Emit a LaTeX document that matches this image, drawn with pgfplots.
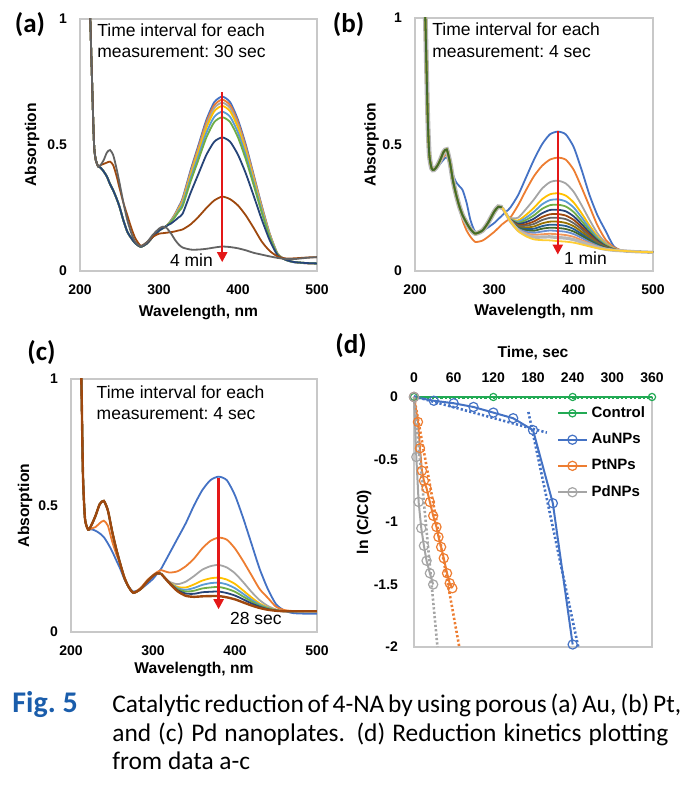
\documentclass[border=0pt]{standalone}
\usepackage{fontspec}
\setmainfont{Liberation Sans}
\newfontfamily\capfont{Carlito}
\usepackage{pgfplots}
\pgfplotsset{compat=1.18}
\usepackage{pgfplotstable}
\usetikzlibrary{arrows.meta}

\definecolor{xblue}{HTML}{4472C4}
\definecolor{xorange}{HTML}{ED7D31}
\definecolor{xgray}{HTML}{A5A5A5}
\definecolor{xgold}{HTML}{FFC000}
\definecolor{xlblue}{HTML}{5B9BD5}
\definecolor{xgreen}{HTML}{70AD47}
\definecolor{xdblue}{HTML}{264478}
\definecolor{xbrown}{HTML}{9E480E}
\definecolor{xdgray}{HTML}{636363}
\definecolor{xolive}{HTML}{997300}
\definecolor{xdblueb}{HTML}{255E91}
\definecolor{xdgreen}{HTML}{43682B}
\definecolor{xlblueb}{HTML}{698ED0}
\definecolor{xlorange}{HTML}{F1975A}
\definecolor{xlgray}{HTML}{B7B7B7}
\definecolor{xlgold}{HTML}{FFCD33}
\definecolor{cgreen}{RGB}{34,170,84}
\definecolor{xred}{RGB}{228,24,24}
\definecolor{axgray}{RGB}{200,200,200}
\definecolor{figblue}{RGB}{26,93,171}

\newcommand{\tickf}{\fontsize{7}{8}\selectfont\bfseries}
\newcommand{\labf}{\fontsize{7.8}{9}\selectfont\bfseries}
\newcommand{\annf}{\fontsize{8.75}{10}\selectfont}
\newcommand{\panf}{\capfont\bfseries\fontsize{13.5}{15}\selectfont}
\newcommand{\capf}{\capfont\fontsize{12.7}{15}\selectfont}

% ---------- panel (a) ----------
\pgfplotstableread{
l main brown dgray
205 1.8 1.8 1.8
210 1.3 1.3 1.3
213 1.0 1.0 1.0
216.5 0.62 0.62 0.62
218 0.49 0.49 0.49
220 0.44 0.44 0.44
223 0.415 0.415 0.415
226 0.41 0.42 0.42
230 0.395 0.425 0.44
234 0.375 0.43 0.47
238 0.345 0.434 0.48
242 0.32 0.42 0.46
246 0.29 0.38 0.41
250 0.255 0.33 0.35
255 0.2 0.27 0.27
260 0.155 0.22 0.2
265 0.13 0.17 0.15
270 0.11 0.13 0.115
277 0.096 0.10 0.098
285 0.11 0.115 0.115
292 0.135 0.135 0.143
300 0.16 0.148 0.168
305 0.17 0.15 0.176
310 0.18 0.152 0.17
}\Aleft
\pgfplotstableread{
l c1 c2 c3 c4 c5 c6 c7 c8 c9
310 0.18 0.18 0.18 0.18 0.18 0.18 0.18 0.152 0.17
315 0.20 0.199 0.198 0.197 0.196 0.195 0.188 0.154 0.15
320 0.225 0.223 0.221 0.219 0.216 0.213 0.20 0.157 0.125
325 0.255 0.252 0.249 0.246 0.241 0.236 0.213 0.161 0.105
330 0.29 0.285 0.281 0.276 0.267 0.258 0.228 0.165 0.093
340 0.40 0.393 0.387 0.379 0.367 0.355 0.31 0.185 0.085
350 0.50 0.492 0.483 0.474 0.458 0.442 0.386 0.215 0.085
360 0.60 0.59 0.579 0.568 0.549 0.53 0.461 0.25 0.088
370 0.67 0.658 0.647 0.634 0.612 0.591 0.513 0.28 0.093
380 0.692 0.68 0.668 0.655 0.632 0.61 0.53 0.295 0.097
390 0.67 0.658 0.647 0.634 0.612 0.591 0.513 0.285 0.095
400 0.60 0.59 0.579 0.568 0.549 0.53 0.461 0.26 0.09
410 0.50 0.492 0.483 0.474 0.458 0.442 0.386 0.22 0.082
420 0.38 0.375 0.369 0.362 0.35 0.339 0.297 0.17 0.072
430 0.26 0.256 0.252 0.247 0.24 0.232 0.205 0.117 0.065
440 0.15 0.148 0.146 0.144 0.14 0.136 0.123 0.08 0.058
450 0.07 0.069 0.069 0.068 0.067 0.066 0.063 0.058 0.052
460 0.045 0.045 0.045 0.045 0.045 0.045 0.045 0.05 0.048
470 0.035 0.036 0.036 0.036 0.036 0.036 0.036 0.05 0.047
480 0.032 0.032 0.033 0.033 0.033 0.033 0.033 0.052 0.05
490 0.03 0.03 0.031 0.031 0.031 0.031 0.031 0.054 0.053
500 0.03 0.03 0.03 0.03 0.03 0.03 0.03 0.055 0.055
}\Aright

% ---------- panel (b) ----------
\pgfplotstableread{
l blue orange clus
205 1.8 1.8 1.8
210 1.3 1.3 1.3
213 1.0 1.0 1.0
216 0.61 0.61 0.61
218 0.46 0.46 0.46
221 0.405 0.405 0.405
224 0.40 0.40 0.40
228 0.41 0.415 0.415
232 0.425 0.43 0.44
236 0.44 0.45 0.47
240 0.45 0.46 0.48
244 0.42 0.42 0.43
248 0.38 0.36 0.355
252 0.35 0.30 0.30
256 0.335 0.25 0.255
260 0.32 0.20 0.22
265 0.27 0.16 0.19
270 0.20 0.135 0.165
276 0.155 0.115 0.148
285 0.16 0.12 0.16
292 0.172 0.135 0.19
300 0.19 0.155 0.235
305 0.205 0.17 0.254
310 0.22 0.185 0.25
}\Bleft
\pgfplotstableread{
l c1 c2 c3 c4 c5 c6 c7 c8 c9 c10 c11 c12 c13 c14 c15 c16
310 0.22 0.185 0.25 0.25 0.25 0.25 0.25 0.25 0.25 0.25 0.25 0.25 0.25 0.25 0.25 0.25
315 0.235 0.197 0.225 0.225 0.225 0.225 0.225 0.225 0.225 0.225 0.225 0.225 0.225 0.225 0.225 0.225
320 0.25 0.21 0.209 0.206 0.205 0.204 0.203 0.202 0.202 0.201 0.200 0.200 0.199 0.198 0.198 0.197
330 0.30 0.26 0.211 0.200 0.195 0.190 0.186 0.182 0.179 0.175 0.172 0.170 0.167 0.164 0.161 0.158
340 0.37 0.32 0.245 0.222 0.211 0.202 0.193 0.185 0.179 0.172 0.166 0.161 0.155 0.149 0.143 0.137
350 0.44 0.375 0.283 0.250 0.234 0.220 0.207 0.196 0.186 0.176 0.167 0.159 0.151 0.143 0.134 0.125
360 0.50 0.415 0.325 0.283 0.263 0.245 0.228 0.213 0.201 0.188 0.177 0.167 0.156 0.145 0.134 0.122
370 0.54 0.44 0.351 0.303 0.280 0.260 0.241 0.224 0.210 0.195 0.183 0.171 0.160 0.147 0.135 0.121
380 0.551 0.448 0.357 0.307 0.283 0.262 0.242 0.225 0.210 0.195 0.182 0.170 0.158 0.145 0.132 0.118
390 0.54 0.44 0.346 0.298 0.275 0.255 0.236 0.219 0.205 0.190 0.178 0.166 0.155 0.142 0.130 0.116
400 0.49 0.40 0.313 0.271 0.251 0.233 0.216 0.202 0.189 0.177 0.166 0.156 0.146 0.135 0.124 0.112
410 0.40 0.33 0.260 0.228 0.212 0.198 0.185 0.174 0.165 0.155 0.146 0.139 0.131 0.122 0.114 0.105
420 0.30 0.255 0.202 0.180 0.169 0.160 0.151 0.144 0.137 0.131 0.125 0.120 0.114 0.109 0.103 0.097
430 0.22 0.18 0.149 0.137 0.131 0.126 0.121 0.116 0.113 0.109 0.106 0.103 0.100 0.096 0.093 0.090
440 0.16 0.125 0.113 0.107 0.104 0.102 0.099 0.097 0.096 0.094 0.092 0.091 0.089 0.088 0.086 0.085
450 0.10 0.095 0.091 0.089 0.088 0.087 0.086 0.086 0.085 0.085 0.084 0.084 0.083 0.083 0.082 0.082
460 0.08 0.082 0.08 0.08 0.08 0.08 0.08 0.08 0.08 0.08 0.08 0.08 0.08 0.08 0.08 0.08
470 0.078 0.078 0.078 0.078 0.078 0.078 0.078 0.078 0.078 0.078 0.078 0.078 0.078 0.078 0.078 0.078
480 0.076 0.076 0.076 0.076 0.076 0.076 0.076 0.076 0.076 0.076 0.076 0.076 0.076 0.076 0.076 0.076
490 0.075 0.075 0.075 0.075 0.075 0.075 0.075 0.075 0.075 0.075 0.075 0.075 0.075 0.075 0.075 0.075
500 0.074 0.074 0.074 0.074 0.074 0.074 0.074 0.074 0.074 0.074 0.074 0.074 0.074 0.074 0.074 0.074
}\Bright

% ---------- panel (c) ----------
\pgfplotstableread{
l blue orange clus
205 1.8 1.8 1.8
210 1.25 1.25 1.25
212.6 1.0 1.0 1.0
214.6 0.62 0.62 0.62
217 0.45 0.45 0.45
220 0.41 0.41 0.41
222 0.405 0.405 0.405
226 0.405 0.41 0.43
230 0.40 0.415 0.46
235 0.39 0.43 0.505
240 0.375 0.44 0.518
245 0.35 0.42 0.48
250 0.32 0.36 0.40
255 0.285 0.31 0.33
260 0.25 0.27 0.27
265 0.21 0.22 0.215
270 0.18 0.18 0.18
276 0.16 0.155 0.155
285 0.17 0.175 0.17
293 0.19 0.205 0.20
300 0.21 0.225 0.222
305 0.23 0.237 0.232
310 0.25 0.245 0.23
}\Cleft
\pgfplotstableread{
l c1 c2 c3 c4 c5 c6 c7 c8
310 0.25 0.245 0.23 0.23 0.23 0.23 0.23 0.23
320 0.31 0.235 0.199 0.196 0.195 0.194 0.194 0.193
330 0.37 0.24 0.189 0.178 0.173 0.169 0.165 0.161
340 0.43 0.26 0.199 0.176 0.167 0.160 0.152 0.143
350 0.50 0.29 0.221 0.188 0.174 0.163 0.151 0.139
360 0.56 0.33 0.246 0.203 0.186 0.172 0.157 0.141
370 0.60 0.36 0.260 0.212 0.193 0.176 0.159 0.142
380 0.614 0.373 0.265 0.215 0.195 0.178 0.160 0.142
390 0.60 0.365 0.255 0.207 0.188 0.171 0.154 0.137
400 0.54 0.33 0.232 0.190 0.173 0.159 0.144 0.129
410 0.45 0.28 0.197 0.164 0.151 0.140 0.129 0.117
420 0.35 0.225 0.159 0.137 0.128 0.121 0.113 0.105
430 0.25 0.17 0.126 0.113 0.108 0.104 0.100 0.095
440 0.17 0.135 0.103 0.097 0.095 0.093 0.090 0.088
450 0.11 0.10 0.089 0.087 0.086 0.086 0.085 0.084
460 0.085 0.087 0.082 0.082 0.082 0.082 0.082 0.082
470 0.075 0.083 0.082 0.082 0.082 0.082 0.082 0.082
480 0.073 0.082 0.082 0.082 0.082 0.082 0.082 0.082
490 0.072 0.082 0.082 0.082 0.082 0.082 0.082 0.082
500 0.072 0.082 0.082 0.082 0.082 0.082 0.082 0.082
}\Cright

\pgfplotsset{
  spec/.style={
    scale only axis, anchor=south west,
    xmin=200, xmax=500, ymin=0, ymax=1,
    xtick={200,300,400,500}, xticklabels={200,300,400,500},
    ytick={0,0.5,1}, yticklabels={0,0.5,1},
    major tick length=0pt,
    axis line style={draw=axgray, line width=0.7pt},
    tick label style={font=\tickf},
    xticklabel style={anchor=center, yshift=-9.5pt},
    yticklabel style={anchor=east, xshift=-3pt},
    label style={font=\labf},
    xlabel={Wavelength, nm}, ylabel={Absorption},
    every axis plot/.append style={line width=0.9pt, no marks, smooth, tension=0.4},
  },
  arr/.style={xred, line width=1.1pt, sharp plot, -{Triangle[length=5pt,width=5pt]}},
}

\begin{document}
\begin{tikzpicture}
\path[use as bounding box] (0pt,0pt) rectangle (343pt,398pt);

% ===== (a) =====
\begin{axis}[spec, at={(40pt,262.5pt)}, width=118.5pt, height=126pt,
  xlabel style={at={(axis description cs:0.5,-0.163)}, anchor=center},
  ylabel style={at={(axis description cs:-0.2025,0.5)}, anchor=center}]
\addplot[xblue] table[x=l,y=main]{\Aleft};
\addplot[xorange] table[x=l,y=main]{\Aleft};
\addplot[xgray] table[x=l,y=main]{\Aleft};
\addplot[xgold] table[x=l,y=main]{\Aleft};
\addplot[xlblue] table[x=l,y=main]{\Aleft};
\addplot[xgreen] table[x=l,y=main]{\Aleft};
\addplot[xdblue] table[x=l,y=main]{\Aleft};
\addplot[xbrown] table[x=l,y=brown]{\Aleft};
\addplot[xdgray] table[x=l,y=dgray]{\Aleft};
\addplot[xblue] table[x=l,y=c1]{\Aright};
\addplot[xorange] table[x=l,y=c2]{\Aright};
\addplot[xgray] table[x=l,y=c3]{\Aright};
\addplot[xgold] table[x=l,y=c4]{\Aright};
\addplot[xlblue] table[x=l,y=c5]{\Aright};
\addplot[xgreen] table[x=l,y=c6]{\Aright};
\addplot[xdblue] table[x=l,y=c7]{\Aright};
\addplot[xbrown] table[x=l,y=c8]{\Aright};
\addplot[xdgray] table[x=l,y=c9]{\Aright};
\addplot[arr] coordinates {(380,0.71) (380,0.035)};
\node[anchor=base west, inner sep=0pt, font=\annf] at (axis cs:221.5,0.93) {Time interval for each};
\node[anchor=base west, inner sep=0pt, font=\annf] at (axis cs:221.5,0.849) {measurement:\ 30 sec};
\node[anchor=base west, inner sep=0pt, font=\annf] at (axis cs:313.5,0.017) {4 min};
\end{axis}

% ===== (b) =====
\begin{axis}[spec, at={(207.5pt,262.5pt)}, width=119pt, height=126.5pt,
  xlabel style={at={(axis description cs:0.5,-0.161)}, anchor=center},
  ylabel style={at={(axis description cs:-0.182,0.5)}, anchor=center}]
\addplot[xblue] table[x=l,y=blue]{\Bleft};
\addplot[xorange] table[x=l,y=orange]{\Bleft};
\addplot[xlgray, line width=2.4pt] table[x=l,y=clus]{\Bleft};
\addplot[xgold] table[x=l,y=clus]{\Bleft};
\addplot[xolive] table[x=l,y=clus]{\Bleft};
\addplot[xgreen] table[x=l,y=clus]{\Bleft};
\addplot[xdgreen] table[x=l,y=clus]{\Bleft};
\addplot[xblue] table[x=l,y=c1]{\Bright};
\addplot[xorange] table[x=l,y=c2]{\Bright};
\addplot[xgray] table[x=l,y=c3]{\Bright};
\addplot[xgold] table[x=l,y=c4]{\Bright};
\addplot[xlblue] table[x=l,y=c5]{\Bright};
\addplot[xgreen] table[x=l,y=c6]{\Bright};
\addplot[xdblue] table[x=l,y=c7]{\Bright};
\addplot[xbrown] table[x=l,y=c8]{\Bright};
\addplot[xdgray] table[x=l,y=c9]{\Bright};
\addplot[xolive] table[x=l,y=c10]{\Bright};
\addplot[xdblueb] table[x=l,y=c11]{\Bright};
\addplot[xdgreen] table[x=l,y=c12]{\Bright};
\addplot[xlblueb] table[x=l,y=c13]{\Bright};
\addplot[xlorange] table[x=l,y=c14]{\Bright};
\addplot[xlgray, line width=1.6pt] table[x=l,y=c15]{\Bright};
\addplot[xlgold] table[x=l,y=c16]{\Bright};
\addplot[arr] coordinates {(380,0.555) (380,0.065)};
\node[anchor=base west, inner sep=0pt, font=\annf] at (axis cs:221.4,0.93) {Time interval for each};
\node[anchor=base west, inner sep=0pt, font=\annf] at (axis cs:221.4,0.843) {measurement:\ 4 sec};
\node[anchor=base west, inner sep=0pt, font=\annf] at (axis cs:387.4,0.024) {1 min};
\end{axis}

% ===== (c) =====
\begin{axis}[spec, at={(35.5pt,82pt)}, width=123pt, height=126.5pt,
  xlabel style={at={(axis description cs:0.5,-0.15)}, anchor=center},
  ylabel style={at={(axis description cs:-0.187,0.5)}, anchor=center}]
\addplot[xblue] table[x=l,y=blue]{\Cleft};
\addplot[xorange] table[x=l,y=orange]{\Cleft};
\addplot[xgray] table[x=l,y=clus]{\Cleft};
\addplot[xgold] table[x=l,y=clus]{\Cleft};
\addplot[xlblue] table[x=l,y=clus]{\Cleft};
\addplot[xgreen] table[x=l,y=clus]{\Cleft};
\addplot[xdblue] table[x=l,y=clus]{\Cleft};
\addplot[xbrown, line width=1.2pt] table[x=l,y=clus]{\Cleft};
\addplot[xblue] table[x=l,y=c1]{\Cright};
\addplot[xorange] table[x=l,y=c2]{\Cright};
\addplot[xgray] table[x=l,y=c3]{\Cright};
\addplot[xgold] table[x=l,y=c4]{\Cright};
\addplot[xlblue] table[x=l,y=c5]{\Cright};
\addplot[xgreen] table[x=l,y=c6]{\Cright};
\addplot[xdblue] table[x=l,y=c7]{\Cright};
\addplot[xbrown, line width=1.2pt] table[x=l,y=c8]{\Cright};
\addplot[arr] coordinates {(380,0.61) (380,0.09)};
\node[anchor=base west, inner sep=0pt, font=\annf] at (axis cs:230.9,0.922) {Time interval for each};
\node[anchor=base west, inner sep=0pt, font=\annf] at (axis cs:230.9,0.841) {measurement:\ 4 sec};
\node[anchor=base west, inner sep=0pt, font=\annf] at (axis cs:393.5,0.03) {28 sec};
\end{axis}

% ===== (d) =====
\begin{axis}[scale only axis, anchor=south west, at={(207pt,74.5pt)}, width=119pt, height=125pt,
  xmin=0, xmax=360, ymin=-2, ymax=0,
  xtick={0,60,120,180,240,300,360}, xticklabels={0,60,120,180,240,300,360},
  ytick={-2,-1.5,-1,-0.5,0}, yticklabels={-2,-1.5,-1,-0.5,0},
  xticklabel pos=upper,
  major tick length=0pt,
  axis line style={draw=axgray, line width=0.7pt},
  tick label style={font=\tickf},
  xticklabel style={anchor=center, yshift=9.5pt},
  yticklabel style={anchor=east, xshift=-4.5pt},
  label style={font=\labf},
  xlabel={Time, sec}, xlabel style={at={(axis description cs:0.5,1.176)}, anchor=center},
  ylabel={ln (C/C0)}, ylabel style={at={(axis description cs:-0.21,0.5)}, anchor=center},
  clip=false,
  legend style={at={(axis cs:216,-0.04)}, anchor=north west, draw=none, fill=none,
    font=\fontsize{7.5}{9}\selectfont\bfseries, row sep=2.4pt, inner sep=0pt},
  legend cell align=left,
  legend image code/.code={\draw[mark repeat=2,mark phase=2,#1] plot coordinates {(0cm,0cm) (0.25cm,0cm) (0.5cm,0cm)};},
]
\addplot[cgreen, line width=1pt, mark=o, mark size=1.8pt, mark options={line width=0.6pt}] coordinates {(0,0) (120,0) (240,0) (360,0)};
\addlegendentry{Control}
\addplot[xblue, line width=1pt, mark=o, mark size=2.3pt, mark options={line width=0.6pt}] coordinates {(0,0) (30,-0.03) (60,-0.05) (90,-0.08) (120,-0.125) (150,-0.17) (180,-0.265) (210,-0.85) (240,-1.98)};
\addlegendentry{AuNPs}
\addplot[xorange, line width=1pt, mark=o, mark size=2.3pt, mark options={line width=0.6pt}] coordinates {(0,0) (6,-0.2) (9,-0.41) (12,-0.59) (15,-0.67) (19,-0.73) (24,-0.84) (29,-0.95) (34,-1.04) (37,-1.12) (41,-1.2) (45,-1.29) (50,-1.41) (54,-1.49) (58,-1.53)};
\addlegendentry{PtNPs}
\addplot[xgray, line width=1pt, mark=o, mark size=2.3pt, mark options={line width=0.6pt}] coordinates {(0,0) (3.5,-0.48) (7,-0.84) (11,-1.05) (15,-1.19) (19,-1.31) (24,-1.41) (29,-1.5)};
\addlegendentry{PdNPs}
\addplot[cgreen, line width=1.3pt, dash pattern=on 1.1pt off 1.1pt, forget plot] coordinates {(0,-0.008) (360,-0.008)};
\addplot[xblue, line width=1.3pt, dash pattern=on 1.1pt off 1.1pt, forget plot] coordinates {(0,0.005) (201,-0.285)};
\addplot[xblue, line width=1.3pt, dash pattern=on 1.1pt off 1.1pt, forget plot] coordinates {(173,-0.12) (248.5,-2.0)};
\addplot[xorange, line width=1.3pt, dash pattern=on 1.1pt off 1.1pt, forget plot] coordinates {(0,0) (68.5,-2.0)};
\addplot[xgray, line width=1.3pt, dash pattern=on 1.1pt off 1.1pt, forget plot] coordinates {(0,0) (35.5,-2.0)};
\end{axis}

% panel labels
\node[font=\panf] at (15pt,385.5pt) {(a)};
\node[font=\panf] at (174.25pt,385.5pt) {(b)};
\node[font=\panf] at (20.75pt,221.5pt) {(c)};
\node[font=\panf] at (175.5pt,225pt) {(d)};

% caption
\node[anchor=base west, inner sep=0pt, font=\capfont\bfseries\fontsize{15}{16}\selectfont, text=figblue] at (6pt,41.5pt) {Fig.\ 5};
\node[anchor=base west, inner sep=0pt, font=\capf] at (56pt,41.5pt) {\makebox[278pt][s]{Catalytic reduction of 4-NA by using porous (a) Au, (b) Pt,}};
\node[anchor=base west, inner sep=0pt, font=\capf] at (56pt,27pt) {\makebox[278pt][s]{and (c) Pd nanoplates. (d) Reduction kinetics plotting}};
\node[anchor=base west, inner sep=0pt, font=\capf] at (56pt,13pt) {from data a-c};
\end{tikzpicture}
\end{document}
